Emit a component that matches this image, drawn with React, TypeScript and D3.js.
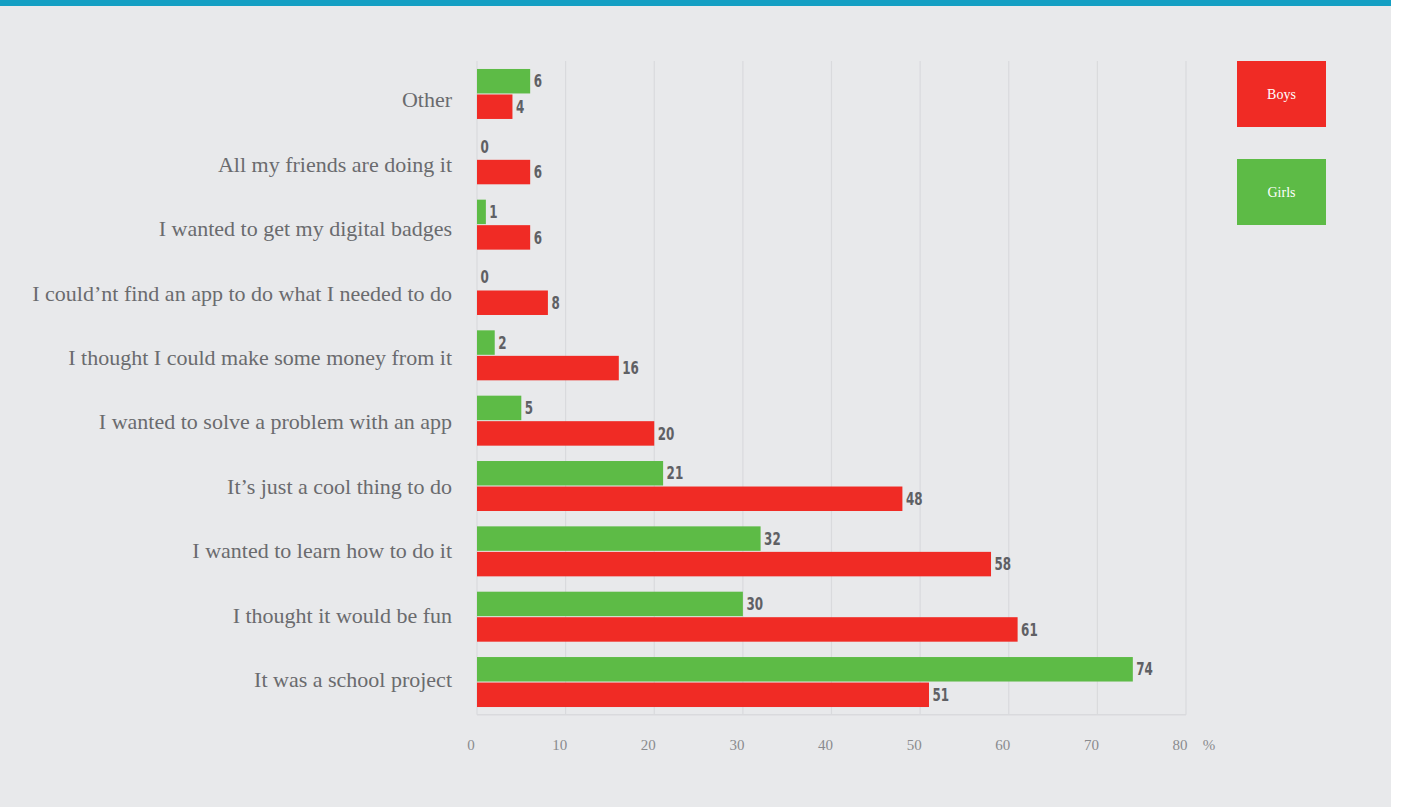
import React from "react";
import * as d3 from "d3";

const categories = [
  "Other",
  "All my friends are doing it",
  "I wanted to get my digital badges",
  "I could\u2019nt find an app to do what I needed to do",
  "I thought I could make some money from it",
  "I wanted to solve a problem with an app",
  "It\u2019s just a cool thing to do",
  "I wanted to learn how to do it",
  "I thought it would be fun",
  "It was a school project",
];
const girls = [6, 0, 1, 0, 2, 5, 21, 32, 30, 74];
const boys = [4, 6, 6, 8, 16, 20, 48, 58, 61, 51];
const xTicks = [0, 10, 20, 30, 40, 50, 60, 70, 80];
const seriesNames = ["Girls", "Boys"];
const legendItems = ["Boys", "Girls"];

const W = 1401;
const H = 809;
const RED = "#F02B25";
const GREEN = "#5DBB46";
const colorOf: Record<string, string> = { Boys: RED, Girls: GREEN };

export default function App() {
  const x = d3.scaleLinear().domain([0, 80]).range([477, 1186]);
  const y = d3
    .scaleBand<string>()
    .domain(categories)
    .range([61.3, 714.7])
    .paddingInner(0.235)
    .paddingOuter(0.1175);
  const sub = d3
    .scaleBand<string>()
    .domain(seriesNames)
    .range([0, y.bandwidth()])
    .paddingInner(0.04);
  const labelY = d3.scalePoint<string>().domain(categories).range([100, 680]);

  const serif = "'Liberation Serif', 'DejaVu Serif', serif";
  const cond = "'DejaVu Sans Condensed', 'DejaVu Sans', sans-serif";

  return (
    <div style={{ position: "absolute", left: 0, top: 0 }}>
      <svg width={W} height={H} style={{ display: "block" }}>
        <rect x={0} y={0} width={W} height={H} fill="#ffffff" />
        <rect x={0} y={0} width={1391} height={807} fill="#E8E9EB" />
        <rect x={0} y={0} width={1391} height={6} fill="#149FC3" />

        {/* gridlines */}
        {xTicks.map((t) => (
          <line
            key={"g" + t}
            x1={x(t)}
            x2={x(t)}
            y1={61}
            y2={714.7}
            stroke="#D9DADD"
            strokeWidth={1.2}
          />
        ))}
        <line x1={x(0)} x2={x(80)} y1={714.7} y2={714.7} stroke="#D9DADD" strokeWidth={1.5} />

        {/* bars */}
        {categories.map((c, i) => {
          const y0 = y(c) as number;
          const vals: Record<string, number> = { Girls: girls[i], Boys: boys[i] };
          return (
            <g key={c}>
              {seriesNames.map((s) => {
                const v = vals[s];
                const by = y0 + (sub(s) as number);
                const bh = sub.bandwidth();
                return (
                  <g key={s}>
                    <rect
                      x={x(0)}
                      y={by}
                      width={Math.max(0, x(v) - x(0))}
                      height={bh}
                      fill={colorOf[s]}
                    />
                    <text
                      transform={`translate(${x(v) + 3.5},${by + bh / 2}) scale(0.78,1)`}
                      dy="0.36em"
                      fontFamily={cond}
                      fontWeight="bold"
                      fontSize={17}
                      fill="#5F6064"
                    >
                      {v}
                    </text>
                  </g>
                );
              })}
              <text
                x={452}
                y={labelY(c) as number}
                dy="0.33em"
                textAnchor="end"
                fontFamily={serif}
                fontSize={22}
                fill="#6A6B6E"
              >
                {c}
              </text>
            </g>
          );
        })}

        {/* x tick labels */}
        {xTicks.map((t) => (
          <text
            key={"t" + t}
            x={x(t) - 6}
            y={750}
            textAnchor="middle"
            fontFamily={serif}
            fontSize={15}
            fill="#8A8B8E"
          >
            {t}
          </text>
        ))}
        <text x={1209} y={750} textAnchor="middle" fontFamily={serif} fontSize={15} fill="#8A8B8E">
          %
        </text>

        {/* legend */}
        {legendItems.map((s, i) => {
          const ly = 61 + i * 98;
          return (
            <g key={s}>
              <rect x={1237} y={ly} width={89} height={66} fill={colorOf[s]} />
              <text
                x={1281.5}
                y={ly + 33}
                dy="0.35em"
                textAnchor="middle"
                fontFamily={serif}
                fontSize={14}
                fill="#ffffff"
              >
                {s}
              </text>
            </g>
          );
        })}
      </svg>
    </div>
  );
}
